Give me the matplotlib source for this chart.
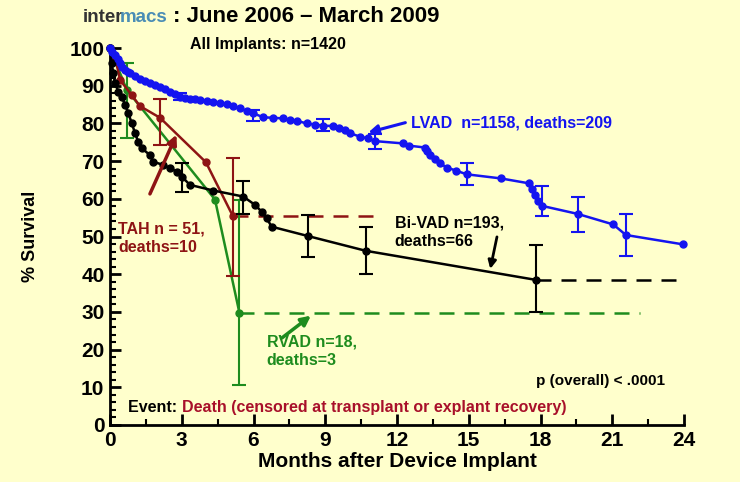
import matplotlib
matplotlib.use("Agg")
import matplotlib.pyplot as plt
import matplotlib.ticker as mticker
from matplotlib.patches import Rectangle

plt.rcParams["font.family"] = ["Liberation Sans", "DejaVu Sans"]
plt.rcParams["font.weight"] = "bold"

BG = "#FFFFCC"
BLUE = "#1414F0"
RED = "#8E1414"
GREEN = "#1E8C1E"
TXT_RED = "#A8102A"

# LVAD (months, % survival)
lvad_t = [0, 0.1, 0.21, 0.32, 0.42, 0.52, 0.63, 0.74, 0.84, 1.05, 1.25, 1.46,
          1.67, 1.88, 2.09, 2.3, 2.51, 2.72, 2.93, 3.14, 3.34, 3.55, 3.76,
          4.04, 4.32, 4.6, 4.88, 5.15, 5.43, 5.71, 5.99, 6.41, 6.83, 7.25,
          7.52, 7.8, 8.22, 8.57, 8.92, 9.34, 9.58, 9.82, 10.03, 10.45, 10.8,
          11.08, 12.24, 12.5, 13.17, 13.27, 13.38, 13.59, 13.8, 14.08, 14.46,
          14.91, 16.35, 17.52, 17.63, 17.77, 17.9, 18.08, 19.55, 21.04, 21.57,
          23.97]
lvad_s = [100, 99.0, 98.1, 97.0, 95.9, 95.0, 94.2, 93.7, 93.3, 92.6, 91.9, 91.2,
          90.6, 90.1, 89.7, 89.0, 88.4, 87.8, 87.1, 86.8, 86.6, 86.4, 86.2,
          86.0, 85.8, 85.5, 85.2, 84.7, 84.0, 83.3, 82.7, 81.6, 81.5, 81.3,
          81.0, 80.7, 80.0, 79.7, 79.4, 79.3, 78.8, 78.2, 77.4, 76.5, 76.0,
          75.3, 74.7, 74.1, 73.6, 72.7, 71.6, 70.6, 69.4, 68.3, 67.5,
          66.5, 65.4, 64.1, 62.5, 61.0, 59.5, 58.1, 56.0, 53.2, 50.4,
          47.9]
lvad_err_t = [2.93, 5.99, 8.92, 11.08, 14.91, 18.08, 19.55, 21.57]
lvad_err_hi = [88.1, 83.6, 81.1, 77.2, 69.4, 63.4, 60.4, 56.0]
lvad_err_lo = [86.2, 80.6, 78.1, 73.3, 63.6, 55.5, 51.3, 44.9]

# Bi-VAD
bivad_t = [0, 0.07, 0.14, 0.21, 0.35, 0.49, 0.63, 0.77, 0.91, 1.05, 1.18, 1.33,
           1.67, 1.81, 2.23, 2.51, 2.79, 3.0, 3.34, 4.32, 5.57, 6.06, 6.34,
           6.55, 6.76, 8.29, 10.7, 17.8]
bivad_s = [100, 95.9, 93.3, 90.6, 88.4, 87.1, 84.9, 82.7, 80.0, 77.4, 75.1, 73.4,
           71.6, 69.8, 69.0, 68.1, 67.2, 65.9, 63.7, 62.2, 60.6, 58.4, 56.6,
           54.8, 52.6, 50.1, 46.2, 38.5]
bivad_err_t = [3.0, 5.57, 8.29, 10.7, 17.8]
bivad_err_hi = [69.4, 64.8, 55.7, 52.6, 47.7]
bivad_err_lo = [61.7, 56.1, 44.5, 40.0, 30.1]
bivad_tail_end = 24.0

# TAH
tah_t = [0, 0.21, 0.42, 0.91, 1.25, 2.09, 4.01, 5.13]
tah_s = [100, 97.7, 91.5, 87.5, 84.6, 81.5, 69.7, 55.5]
tah_err_t = [2.09, 5.13]
tah_err_hi = [86.6, 70.7]
tah_err_lo = [74.4, 39.5]
tah_tail_end = 11.15

# RVAD
rvad_t = [0, 0.7, 4.39, 5.41]
rvad_s = [100, 88.9, 59.8, 29.8]
rvad_err_t = [0.7, 5.41]
rvad_err_hi = [96.0, 59.7]
rvad_err_lo = [76.0, 10.6]
rvad_tail_end = 22.15

x_ticks = [0, 3, 6, 9, 12, 15, 18, 21, 24]
y_ticks = [0, 10, 20, 30, 40, 50, 60, 70, 80, 90, 100]

W, H = 740, 488
fig = plt.figure(figsize=(W / 100, H / 100), dpi=100, facecolor=BG)
fig.patches.append(Rectangle((0, 0), 1, 6 / H, transform=fig.transFigure,
                             facecolor="white", edgecolor="none", zorder=-1))
ax = fig.add_axes([110 / W, 1 - 425 / H, 574 / W, 377 / H])
ax.set_facecolor(BG)


def px(x, y):
    return x / W, 1 - y / H


def draw_series(t, s, et, ehi, elo, color, tail_end=None, lw=1.8, ms=5):
    ax.plot(t, s, color=color, lw=lw, marker="o", ms=ms, zorder=3,
            clip_on=False)
    for xi, hi, lo in zip(et, ehi, elo):
        ax.errorbar([xi], [(hi + lo) / 2], yerr=[[(hi - lo) / 2], [(hi - lo) / 2]],
                    fmt="none", ecolor=color, elinewidth=1.5, capsize=5,
                    capthick=1.5, zorder=3)
    if tail_end is not None:
        ax.plot([t[-1], tail_end], [s[-1], s[-1]], color=color, lw=lw,
                ls=(0, (6, 4)), zorder=2)


def arrow(start, end, color, lw=2.2, size=14):
    ax.annotate("", xy=end, xytext=start,
                arrowprops=dict(arrowstyle="-|>", color=color, lw=lw,
                                mutation_scale=size, shrinkA=0, shrinkB=0))


draw_series(rvad_t, rvad_s, rvad_err_t, rvad_err_hi, rvad_err_lo, GREEN, rvad_tail_end)
draw_series(tah_t, tah_s, tah_err_t, tah_err_hi, tah_err_lo, RED, tah_tail_end)
draw_series(bivad_t, bivad_s, bivad_err_t, bivad_err_hi, bivad_err_lo, "black", bivad_tail_end)
draw_series(lvad_t, lvad_s, lvad_err_t, lvad_err_hi, lvad_err_lo, BLUE)

ax.set_xlim(0, 24)
ax.set_ylim(0, 100)
ax.set_xticks(x_ticks)
ax.set_yticks(y_ticks)
ax.xaxis.set_minor_locator(mticker.MultipleLocator(1.5))
ax.yaxis.set_minor_locator(mticker.MultipleLocator(2))
for side in ("top", "right"):
    ax.spines[side].set_visible(False)
for side in ("left", "bottom"):
    ax.spines[side].set_linewidth(2)
narrow = ["Liberation Sans Narrow", "Liberation Sans", "DejaVu Sans"]
ax.tick_params(which="major", direction="in", length=8, width=2,
               labelsize=15, pad=4)
ax.tick_params(which="minor", direction="in", length=4, width=1.5)
for lab in ax.get_xticklabels() + ax.get_yticklabels():
    lab.set_family(narrow)
    lab.set_fontweight("bold")

ax.set_xlabel("Months after Device Implant", fontsize=15, fontweight="bold",
              labelpad=2)
ax.set_ylabel("% Survival", fontsize=13, fontweight="bold", labelpad=22)

# header
logo1 = fig.text(*px(83, 17), "inter", color="#333333", fontsize=13.5,
                 fontweight="bold", va="center", ha="left")
fig.canvas.draw()
lb = logo1.get_window_extent()
fig.text((lb.x1 - 4) / W, 1 - 17 / H, "macs", color="#4A8DB5", fontsize=13.5,
         fontweight="bold", va="center", ha="left")
fig.text(*px(173, 16), ": June 2006 \u2013 March 2009", fontsize=16,
         fontweight="bold", va="center", ha="left")
fig.text(*px(190, 45), "All Implants: n=1420", fontsize=11.5,
         fontweight="bold", va="center", ha="left")

# annotations
ax.text(12.6, 80.0, "LVAD  n=1158, deaths=209", color=BLUE, fontsize=11.5,
        fontweight="bold", va="center")
arrow((12.35, 80.2), (10.8, 77.6), BLUE)
ax.text(0.35, 49.6, "TAH n = 51,\ndeaths=10", color=RED, fontsize=11.5,
        fontweight="bold", va="center", linespacing=1.3)
arrow((1.67, 61.3), (2.78, 77.0), RED, lw=2.5)
ax.text(11.9, 51.2, "Bi-VAD n=193,\ndeaths=66", color="black", fontsize=11.5,
        fontweight="bold", va="center", linespacing=1.3)
arrow((16.18, 49.9), (15.9, 41.4), "black", lw=2, size=12)
ax.text(6.55, 19.5, "RVAD n=18,\ndeaths=3", color=GREEN, fontsize=11.5,
        fontweight="bold", va="center", linespacing=1.3)
arrow((7.19, 23.1), (8.4, 29.0), GREEN, lw=2.5)
ax.text(17.8, 11.8, "p (overall) < .0001", fontsize=11, fontweight="bold",
        va="center", ha="left")

t1 = ax.text(0.75, 4.6, "Event: ", fontsize=11.5, fontweight="bold",
             va="center", ha="left")
fig.canvas.draw()
bb = t1.get_window_extent()
fig.text(bb.x1 / W, 1 - (425 - 4.6 * 3.77) / H,
         "Death (censored at transplant or explant recovery)",
         color=TXT_RED, fontsize=11.5, fontweight="bold", va="center", ha="left")

fig.savefig("out.png", dpi=100, facecolor=BG)
